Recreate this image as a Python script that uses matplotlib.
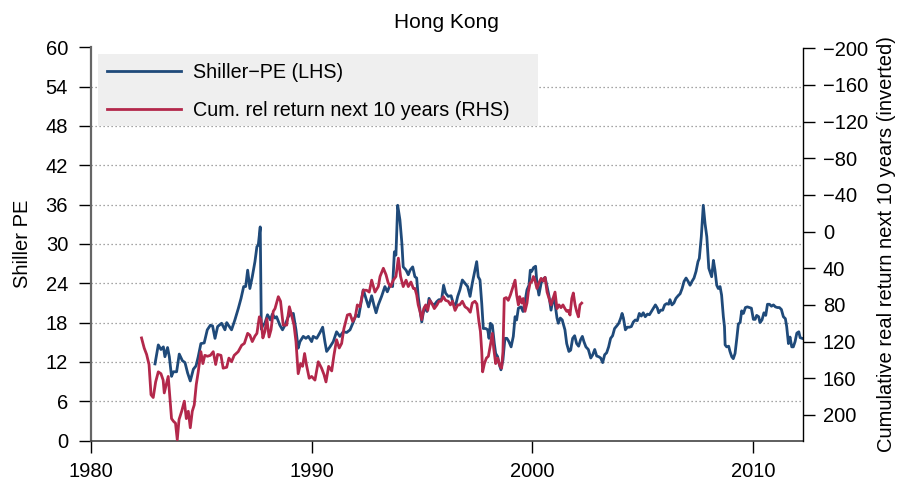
import matplotlib
matplotlib.use('Agg')
import matplotlib.pyplot as plt
from matplotlib.patches import Rectangle

plt.rcParams['font.family'] = ['Liberation Sans', 'DejaVu Sans']
plt.rcParams['font.size'] = 14.5

# Shiller PE (left axis)
pe_years = [
    1982.90, 1983.05, 1983.17, 1983.28, 1983.35, 1983.47, 1983.55, 1983.65, 1983.73, 1983.88,
    1984.00, 1984.14, 1984.26, 1984.38, 1984.50, 1984.64, 1984.76, 1984.86, 1984.98, 1985.13,
    1985.27, 1985.41, 1985.51, 1985.62, 1985.74, 1985.92, 1986.07, 1986.15, 1986.25, 1986.37,
    1986.52, 1986.68, 1986.80, 1986.92, 1987.01, 1987.10, 1987.20, 1987.31, 1987.43, 1987.52,
    1987.58, 1987.67, 1987.72, 1987.79, 1987.88, 1988.00, 1988.13, 1988.22, 1988.34,
    1988.41, 1988.56, 1988.68, 1988.79, 1988.94, 1989.05, 1989.17, 1989.29, 1989.39, 1989.47,
    1989.62, 1989.74, 1989.85, 1990.00, 1990.07, 1990.23, 1990.38, 1990.50, 1990.60, 1990.68,
    1990.83, 1990.98, 1991.13, 1991.28, 1991.43, 1991.59, 1991.74, 1991.89, 1992.01, 1992.13,
    1992.22, 1992.34, 1992.46, 1992.58, 1992.72, 1992.82, 1992.92, 1993.02, 1993.17, 1993.32,
    1993.43, 1993.55, 1993.67, 1993.75, 1993.82, 1993.90, 1994.00, 1994.09, 1994.15, 1994.28,
    1994.38, 1994.46, 1994.58, 1994.68,
    1994.76, 1994.83, 1994.91, 1994.99, 1995.06, 1995.14, 1995.23, 1995.32, 1995.44, 1995.56,
    1995.67, 1995.77, 1995.89, 1995.98, 1996.07, 1996.19, 1996.32, 1996.42, 1996.53, 1996.62,
    1996.72, 1996.83, 1996.95, 1997.07, 1997.18, 1997.28, 1997.37, 1997.48, 1997.55, 1997.63,
    1997.71, 1997.78, 1997.89, 1997.98, 1998.04, 1998.10, 1998.19, 1998.28, 1998.34, 1998.43,
    1998.49, 1998.58, 1998.67, 1998.76, 1998.85, 1998.94, 1999.04, 1999.14, 1999.22, 1999.29,
    1999.37, 1999.49, 1999.58, 1999.67, 1999.76, 1999.85, 1999.91, 1999.97, 2000.06, 2000.15,
    2000.21, 2000.30, 2000.40, 2000.49, 2000.58, 2000.67, 2000.76, 2000.85, 2000.94, 2001.03,
    2001.12, 2001.18, 2001.27, 2001.36,
    2001.38, 2001.48, 2001.56, 2001.66, 2001.74, 2001.83, 2001.92, 2002.01, 2002.10, 2002.19,
    2002.27, 2002.34, 2002.43, 2002.54, 2002.65, 2002.74, 2002.83, 2002.92, 2003.01, 2003.10,
    2003.19, 2003.28, 2003.37, 2003.46, 2003.55, 2003.64, 2003.73, 2003.83, 2003.92, 2004.01,
    2004.07, 2004.13, 2004.22, 2004.31, 2004.40, 2004.49, 2004.58, 2004.67, 2004.76, 2004.85,
    2004.94, 2005.03, 2005.12, 2005.22, 2005.31, 2005.40, 2005.49, 2005.58, 2005.67, 2005.73,
    2005.82, 2005.91, 2006.00, 2006.09, 2006.18, 2006.24, 2006.33, 2006.42, 2006.51, 2006.61,
    2006.70, 2006.79, 2006.88, 2006.97, 2007.06, 2007.15, 2007.24, 2007.33, 2007.42, 2007.51,
    2007.57, 2007.66, 2007.75, 2007.83, 2007.91, 2008.00,
    2008.13, 2008.21, 2008.28, 2008.36, 2008.43, 2008.51, 2008.58, 2008.66, 2008.71, 2008.74,
    2008.81, 2008.90, 2008.96, 2009.04, 2009.11, 2009.19, 2009.27, 2009.34, 2009.42, 2009.49,
    2009.57, 2009.66, 2009.75, 2009.84, 2009.93, 2010.02, 2010.10, 2010.17, 2010.26, 2010.32,
    2010.41, 2010.50, 2010.58, 2010.66, 2010.75, 2010.84, 2010.93, 2011.02, 2011.11, 2011.20,
    2011.29, 2011.38, 2011.47, 2011.53, 2011.61, 2011.68, 2011.76, 2011.83, 2011.91, 2011.99,
    2012.08, 2012.14, 2012.23,
]
pe_values = [
    11.7, 14.6, 13.9, 14.3, 12.8, 14.2, 12.8, 9.8, 10.5, 10.5,
    13.2, 12.2, 11.9, 10.3, 9.1, 10.9, 11.4, 12.8, 14.8, 14.9,
    16.9, 17.6, 17.5, 15.6, 17.4, 17.9, 16.9, 18.0, 17.5, 16.9,
    18.4, 20.2, 21.7, 23.5, 23.5, 26.0, 23.2, 25.0, 27.3, 29.6,
    29.8, 32.6, 17.0, 17.6, 17.9, 19.2, 18.4, 19.3, 18.7,
    18.9, 17.6, 16.9, 17.6, 18.9, 19.3, 19.4, 16.9, 14.1, 15.1,
    15.9, 15.6, 15.9, 15.1, 15.9, 15.6, 16.5, 17.3, 15.1, 13.6,
    14.3, 15.1, 16.6, 15.9, 16.6, 16.5, 16.9, 18.1, 19.2, 18.9,
    20.7, 23.0, 21.7, 20.4, 22.1, 20.7, 19.5, 20.7, 22.0, 23.5,
    22.7, 23.7, 23.5, 28.8, 28.3, 35.9, 33.7, 30.1, 26.5, 26.0,
    25.3, 26.0, 26.5, 25.0,
    24.8, 22.0, 19.9, 18.1, 19.5, 20.4, 19.7, 21.7, 20.9, 20.7,
    21.2, 21.5, 21.5, 23.7, 22.5, 22.0, 22.1, 20.9, 20.7, 22.0,
    23.0, 24.5, 24.0, 23.5, 22.0, 24.0, 25.5, 27.3, 25.0, 24.5,
    20.9, 17.1, 17.1, 16.9, 15.6, 17.9, 17.6, 14.8, 13.3, 12.8,
    11.8, 10.8, 12.3, 15.6, 15.6, 15.1, 14.3, 15.9, 18.9, 18.4,
    20.2, 20.4, 19.7, 21.2, 23.0, 23.7, 26.0, 25.8, 26.4, 26.6,
    24.0, 22.2, 24.0, 24.6, 24.9, 23.5, 22.0, 19.9, 21.7, 20.9,
    18.7, 17.9, 18.7, 18.4,
    18.1, 16.9, 14.8, 13.6, 13.8, 15.6, 16.0, 14.8, 14.4, 15.4,
    15.9, 15.1, 14.3, 13.9, 12.6, 13.1, 13.9, 12.9, 12.8, 12.6,
    11.9, 13.1, 13.4, 14.3, 15.6, 16.0, 17.1, 17.5, 17.9, 18.7,
    19.4, 18.7, 16.9, 17.3, 17.3, 17.4, 18.1, 18.4, 18.3, 19.4,
    19.0, 19.5, 18.9, 19.3, 19.2, 19.7, 20.2, 20.7, 20.2, 19.5,
    19.9, 19.9, 20.7, 20.9, 20.8, 21.5, 20.7, 21.0, 21.7, 22.1,
    22.4, 23.2, 24.3, 24.8, 24.3, 23.7, 24.3, 24.8, 25.8, 27.3,
    27.8, 31.1, 35.9, 33.1, 31.1, 26.3,
    25.0, 27.5, 26.0, 23.7, 23.2, 23.5, 22.2, 18.9, 17.4, 14.6,
    14.3, 14.4, 13.6, 12.8, 12.5, 13.3, 15.6, 17.8, 18.0, 19.8,
    19.4, 20.3, 20.4, 20.3, 20.2, 18.5, 18.5, 19.1, 18.9, 18.0,
    18.4, 19.5, 19.1, 20.8, 20.8, 20.5, 20.7, 20.4, 20.3, 20.3,
    20.0, 18.9, 18.6, 17.4, 14.8, 15.8, 14.3, 14.3, 15.1, 16.4,
    16.6, 15.7, 15.6,
]

# cumulative real return over the following 10 years (right axis, inverted)
ret_years = [
    1982.29, 1982.41, 1982.52, 1982.63, 1982.72, 1982.82, 1982.93, 1983.05, 1983.17, 1983.27,
    1983.32, 1983.41, 1983.50, 1983.58, 1983.65, 1983.74, 1983.83, 1983.91, 1983.99, 1984.11,
    1984.23, 1984.32, 1984.41, 1984.50, 1984.59, 1984.68, 1984.77, 1984.86, 1984.98, 1985.07,
    1985.16, 1985.28, 1985.41, 1985.54, 1985.65, 1985.74, 1985.89, 1985.99, 1986.15, 1986.25,
    1986.37, 1986.49, 1986.67, 1986.83, 1986.95, 1987.10, 1987.20, 1987.31, 1987.43, 1987.52,
    1987.63, 1987.70, 1987.79, 1987.88, 1987.97, 1988.07, 1988.16, 1988.26, 1988.34,
    1988.49, 1988.59, 1988.71, 1988.87, 1988.99, 1989.09, 1989.20, 1989.29, 1989.39, 1989.50,
    1989.59, 1989.68, 1989.77, 1989.89, 1990.00, 1990.15, 1990.30, 1990.45, 1990.56, 1990.65,
    1990.77, 1990.91, 1991.01, 1991.13, 1991.25, 1991.36, 1991.46, 1991.62, 1991.74, 1991.86,
    1991.98, 1992.07, 1992.19, 1992.34, 1992.49, 1992.61, 1992.72, 1992.87, 1993.02, 1993.10,
    1993.25, 1993.37, 1993.47, 1993.58, 1993.70, 1993.82, 1993.93, 1994.03, 1994.15, 1994.28,
    1994.38, 1994.50, 1994.61, 1994.68,
    1994.76, 1994.83, 1994.91, 1994.99, 1995.08, 1995.17, 1995.26, 1995.35, 1995.44, 1995.56,
    1995.68, 1995.77, 1995.86, 1995.97, 1996.07, 1996.19, 1996.29, 1996.38, 1996.50, 1996.62,
    1996.71, 1996.83, 1996.95, 1997.07, 1997.19, 1997.28, 1997.40, 1997.49, 1997.58, 1997.65,
    1997.71, 1997.75, 1997.83, 1997.92, 1998.01, 1998.10, 1998.19, 1998.25, 1998.34, 1998.43,
    1998.54, 1998.61, 1998.67, 1998.73, 1998.82, 1998.91, 1999.01, 1999.10, 1999.22, 1999.29,
    1999.37, 1999.43, 1999.52, 1999.59, 1999.67, 1999.76, 1999.82, 1999.90, 1999.97, 2000.05,
    2000.12, 2000.21, 2000.30, 2000.40, 2000.49, 2000.58, 2000.67, 2000.76, 2000.85, 2000.94,
    2001.03, 2001.12, 2001.21, 2001.30, 2001.39,
    2001.48, 2001.56, 2001.63, 2001.71, 2001.79, 2001.86, 2001.94, 2002.01, 2002.09, 2002.16,
    2002.24,
]
ret_values = [
    116, 127, 134, 145, 178, 181, 164, 153, 155, 162,
    176, 167, 158, 182, 204, 207, 209, 227, 205, 196,
    185, 204, 196, 214, 196, 189, 167, 153, 131, 144,
    135, 136, 135, 131, 145, 134, 135, 149, 148, 138,
    142, 135, 131, 124, 122, 111, 113, 120, 114, 111,
    93, 96, 116, 109, 95, 115, 107, 87, 84,
    71, 76, 102, 102, 82, 91, 102, 120, 155, 144,
    147, 133, 146, 160, 158, 162, 142, 149, 156, 164,
    147, 152, 135, 118, 127, 122, 106, 91, 90, 98,
    93, 80, 82, 64, 64, 66, 53, 66, 60, 49,
    40, 47, 56, 60, 53, 49, 29, 49, 60, 53,
    60, 55, 62, 62,
    69, 80, 87, 96, 84, 80, 86, 75, 78, 84,
    80, 76, 76, 71, 75, 76, 80, 76, 86, 80,
    80, 76, 82, 84, 88, 78, 76, 79, 98, 109,
    131, 153, 144, 138, 136, 124, 111, 127, 144, 138,
    147, 149, 131, 73, 72, 75, 69, 62, 53, 69,
    80, 71, 78, 73, 87, 78, 66, 56, 55, 49,
    53, 62, 56, 51, 54, 50, 66, 73, 80, 73,
    66, 84, 80, 83, 80,
    84, 87, 86, 91, 73, 67, 80, 87, 93, 80,
    78,
]

pe_ticks = list(range(0, 61, 6))
ret_ticks = list(range(-200, 201, 40))
year_ticks = [1980, 1990, 2000, 2010]

blue = '#1f4a7a'
red = '#b3284b'

fig = plt.figure(figsize=(9.01, 4.86), dpi=100)
ax = fig.add_axes([0.101, 0.0934, 0.790, 0.8093])
ax2 = ax.twinx()

ax.plot(pe_years, pe_values, color=blue, lw=2.0, label='Shiller\u2212PE (LHS)')
ax2.plot(ret_years, ret_values, color=red, lw=2.0,
         label='Cum. rel return next 10 years (RHS)')

ax.set_xlim(1980, 2012.26)
ax.set_ylim(0, 60)
ax2.set_ylim(228, -201)

ax.set_yticks(pe_ticks)
ax.set_xticks(year_ticks)
ax2.set_yticks(ret_ticks)
ax2.set_yticklabels([f'{t}'.replace('-', '\u2212') for t in ret_ticks])

for g in pe_ticks[1:-1]:
    ax.axhline(g, color='#888888', lw=0.9, ls=(0, (1, 2.2)), zorder=0)

for s in ['top', 'right']:
    ax.spines[s].set_visible(False)
for s in ['top', 'left', 'bottom']:
    ax2.spines[s].set_visible(False)
ax.spines['left'].set_color('#666666')
ax.spines['left'].set_linewidth(1.6)
ax.spines['bottom'].set_color('#333333')
ax.spines['bottom'].set_linewidth(1.1)
ax2.spines['right'].set_bounds(228, -200)
ax2.spines['right'].set_linewidth(1.0)

ax.tick_params(axis='y', length=8.5, width=1.0, pad=8)
ax.tick_params(axis='x', length=8.5, width=1.0, pad=7)
ax2.tick_params(axis='y', length=8.5, width=1.0, pad=6)

ax.set_ylabel('Shiller PE')
ax.yaxis.set_label_coords(-0.083, 0.5)
ax2.set_ylabel('Cumulative real return next 10 years (inverted)')
ax2.yaxis.set_label_coords(1.104, 0.5)
ax.set_title('Hong Kong', fontsize=15, pad=14)

box = Rectangle((0.0103, 0.800), 0.6175, 0.183, transform=ax2.transAxes,
                facecolor='#efefef', edgecolor='none', zorder=3)
ax2.add_patch(box)

h1, l1 = ax.get_legend_handles_labels()
h2, l2 = ax2.get_legend_handles_labels()
leg = ax2.legend(h1 + h2, l1 + l2, loc='upper left', bbox_to_anchor=(0.0103, 0.983),
                 frameon=False, handlelength=3.75, handletextpad=0.62,
                 labelspacing=0.97, borderaxespad=0, borderpad=0.45, fontsize=14.2)
leg.set_zorder(4)
for line in leg.get_lines():
    line.set_linewidth(2.0)

fig.savefig('out.png', dpi=100)
